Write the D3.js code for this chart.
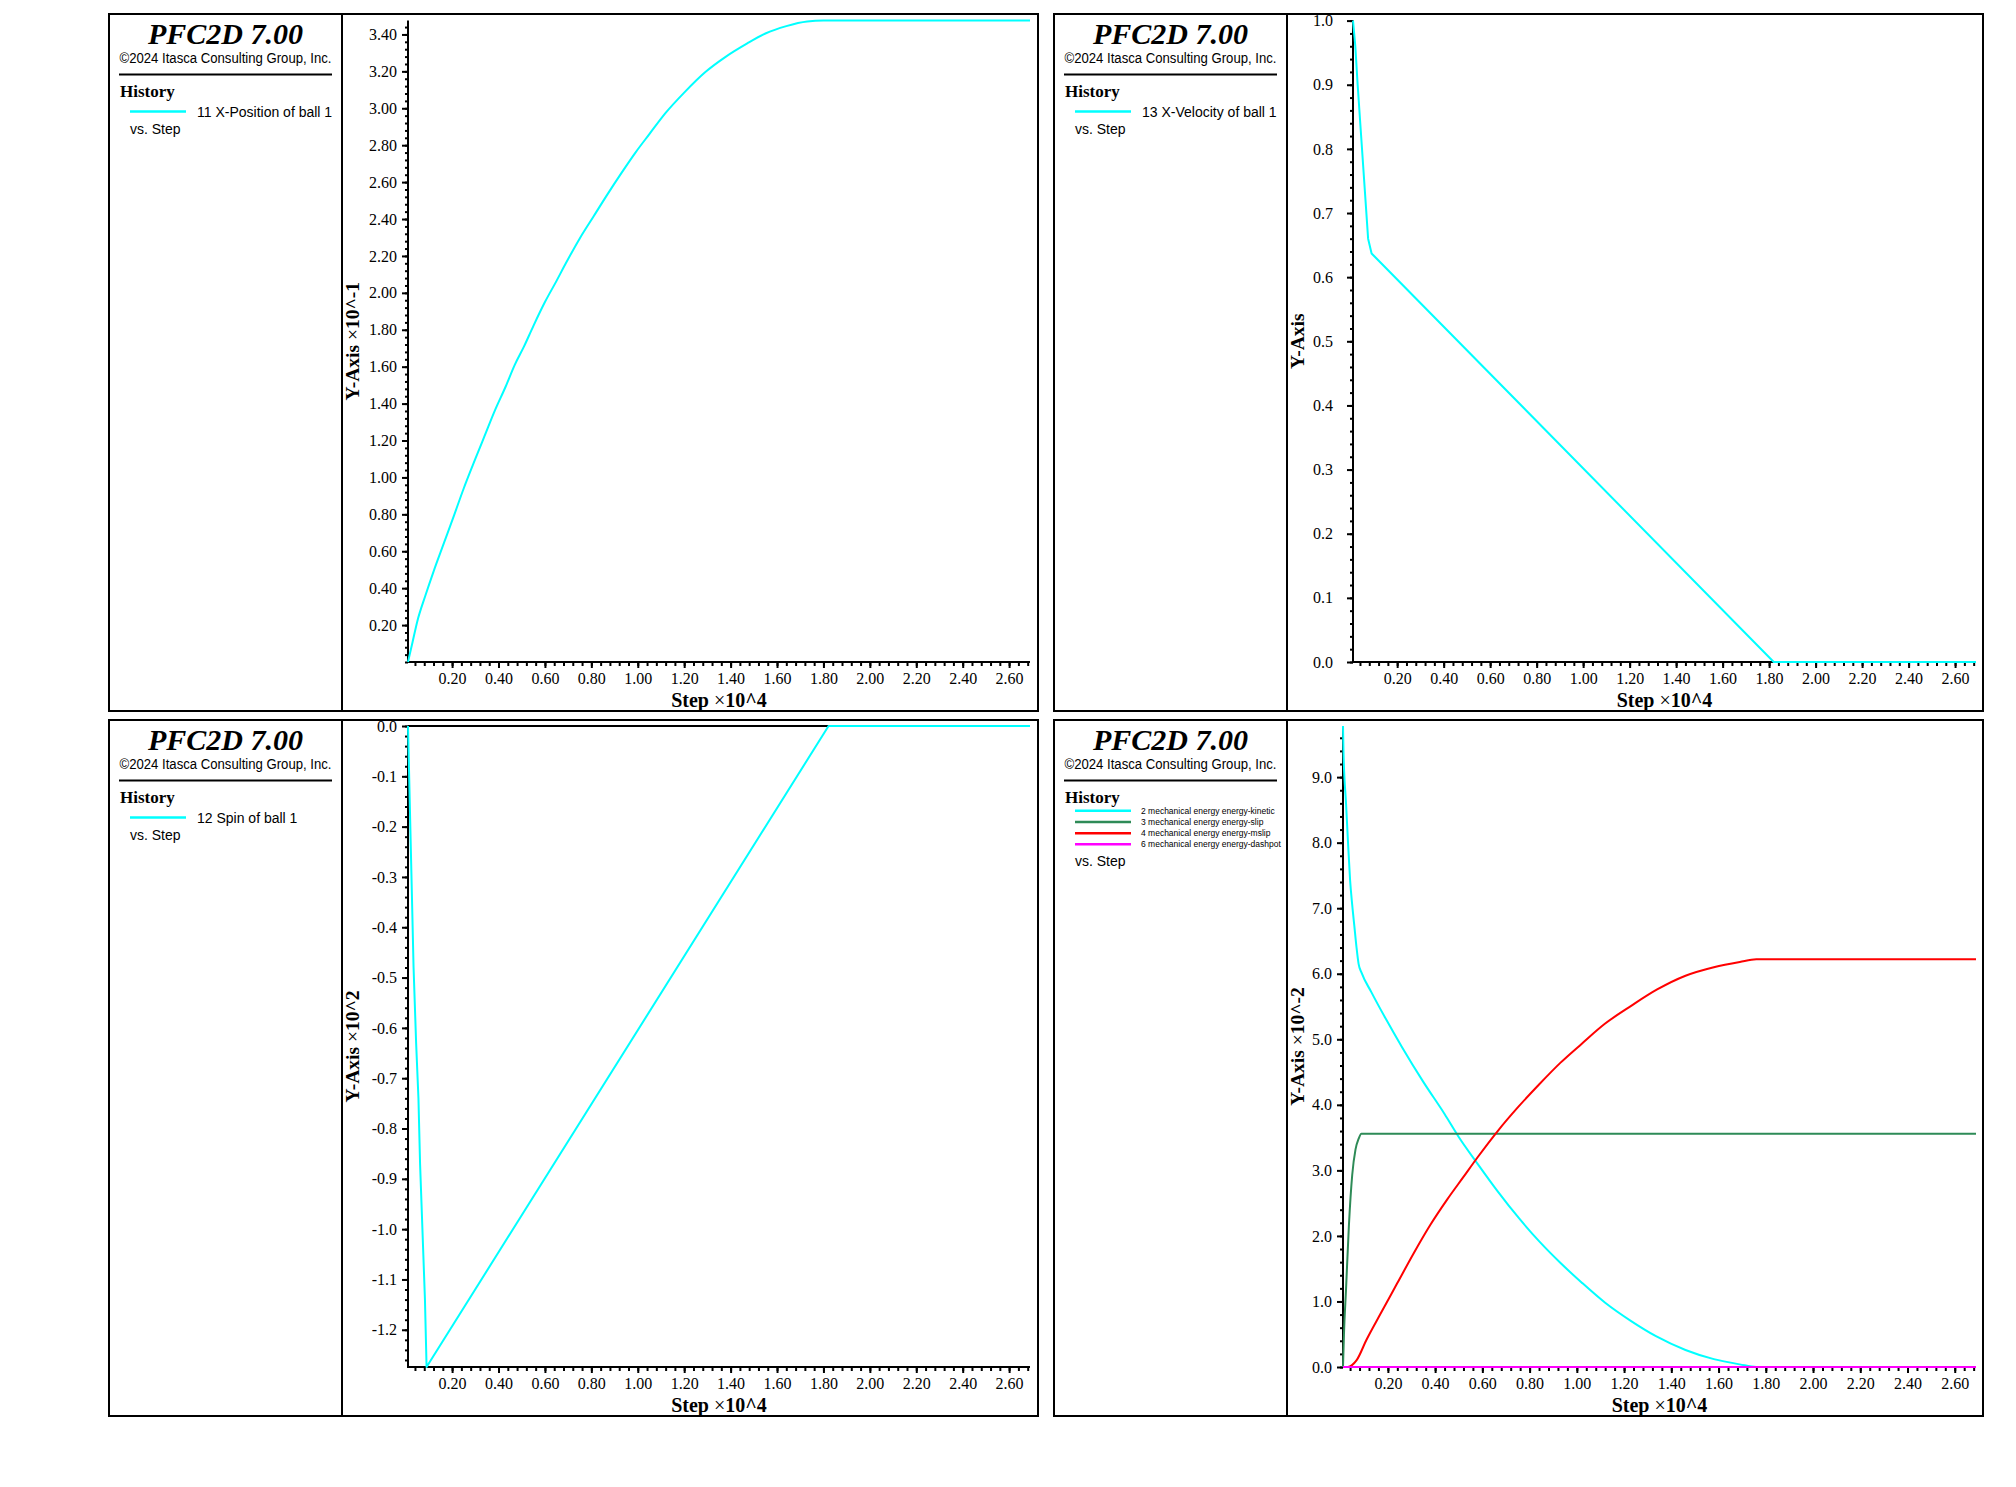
<!DOCTYPE html>
<html><head><meta charset="utf-8">
<script src="https://cdn.jsdelivr.net/npm/d3@7"></script>
<style>body{margin:0;background:#fff}svg{display:block}</style>
</head><body>
<svg id="c" width="2016" height="1487"></svg>
<script>
// ---------- DATA (steps in 10^4) ----------
const stepTicks = [0.2,0.4,0.6,0.8,1.0,1.2,1.4,1.6,1.8,2.0,2.2,2.4,2.6];
const stepDomain = [0.01, 2.69];

// 11 X-Position of ball 1 (x10^-1)
const posStep  = [0.01,0.03,0.05,0.085,0.12,0.165,0.21,0.25,0.30,0.34,0.385,0.43,0.47,0.51,0.55,0.60,0.65,0.69,0.75,0.81,0.87,0.93,0.99,1.05,1.12,1.20,1.29,1.38,1.47,1.55,1.64,1.73,1.80,2.69];
const posValue = [0.0,0.11,0.22,0.36,0.49,0.645,0.80,0.94,1.10,1.225,1.365,1.49,1.61,1.71,1.82,1.95,2.065,2.16,2.295,2.415,2.535,2.65,2.76,2.86,2.975,3.085,3.195,3.28,3.35,3.405,3.445,3.47,3.475,3.475];
const posTicks = [0.2,0.4,0.6,0.8,1.0,1.2,1.4,1.6,1.8,2.0,2.2,2.4,2.6,2.8,3.0,3.2,3.4];

// 13 X-Velocity of ball 1
const velStep  = [0.01,0.02,0.03,0.045,0.06,0.075,0.09,1.82,2.69];
const velValue = [1.0,0.96,0.90,0.82,0.74,0.66,0.637,0.0,0.0];
const velTicks = [0.0,0.1,0.2,0.3,0.4,0.5,0.6,0.7,0.8,0.9,1.0];

// 12 Spin of ball 1 (x10^2)
const spinStep  = [0.01,0.014,0.02,0.027,0.034,0.045,0.055,0.062,0.076,0.083,0.09,1.822,2.69];
const spinValue = [0.0,-0.08,-0.2,-0.34,-0.48,-0.63,-0.74,-0.87,-1.05,-1.14,-1.274,0.0,0.0];
const spinTicks = [0.0,-0.1,-0.2,-0.3,-0.4,-0.5,-0.6,-0.7,-0.8,-0.9,-1.0,-1.1,-1.2];

// mechanical energy (x10^-2)
const keStep  = [0.01,0.012,0.023,0.032,0.04,0.049,0.058,0.067,0.076,0.088,0.13,0.19,0.26,0.35,0.44,0.50,0.58,0.665,0.755,0.84,0.93,1.02,1.12,1.23,1.335,1.46,1.58,1.69,1.76,2.69];
const keValue = [9.78,9.4,8.59,7.95,7.43,7.05,6.73,6.41,6.15,6.02,5.72,5.32,4.88,4.35,3.86,3.51,3.10,2.68,2.27,1.92,1.59,1.29,0.98,0.70,0.47,0.26,0.12,0.04,0.0,0.0];
const slipStep  = [0.01,0.014,0.023,0.035,0.049,0.063,0.076,0.088,2.69];
const slipValue = [0.0,0.49,1.2,2.16,2.93,3.32,3.48,3.557,3.557];
const mslipStep  = [0.01,0.03,0.067,0.11,0.17,0.24,0.31,0.38,0.45,0.52,0.58,0.665,0.75,0.84,0.93,1.02,1.12,1.23,1.34,1.46,1.58,1.69,1.76,2.69];
const mslipValue = [0.0,0.0,0.1,0.42,0.82,1.28,1.74,2.17,2.55,2.90,3.20,3.60,3.96,4.31,4.64,4.93,5.24,5.51,5.76,5.97,6.10,6.18,6.22,6.22];
const dashStep  = [0.01,2.69];
const dashValue = [0.0,0.0];
const energyTicks = [0,1,2,3,4,5,6,7,8,9];

const CYAN = "#00FFFF", GREEN = "#2E8B57", RED = "#FF0000", MAGENTA = "#FF00FF";
const SERIF = "'Liberation Serif','Times New Roman',serif";
const SANS = "'Liberation Sans',Arial,sans-serif";

const zip = (a, b) => a.map((v, i) => [v, b[i]]);

const panels = [
  { box:[109,14,1038,711], div:342, plot:[408,1030,20.6,662], gap:11, yLabX:352, smooth:true,
    yDomain:[0,3.475], yTicks:posTicks, yFmt:2, yMinor:0.04, yLabel:["Y-Axis ","×","10^-1"],
    series:[{d:zip(posStep,posValue), c:CYAN, name:"11 X-Position of ball 1"}], small:false },
  { box:[1054,14,1983,711], div:1287, plot:[1353,1976,20.6,662], gap:20, yLabX:1297, smooth:false,
    yDomain:[0,1.0], yTicks:velTicks, yFmt:1, yMinor:0.02, yLabel:["Y-Axis","",""],
    series:[{d:zip(velStep,velValue), c:CYAN, name:"13 X-Velocity of ball 1"}], small:false },
  { box:[109,720,1038,1416], div:342, plot:[408,1030,726,1367], gap:11, yLabX:352, smooth:false,
    yDomain:[-1.274,0], yTicks:spinTicks, yFmt:1, yMinor:0.02, yLabel:["Y-Axis ","×","10^2"], zeroLine:true,
    series:[{d:zip(spinStep,spinValue), c:CYAN, name:"12 Spin of ball 1"}], small:false },
  { box:[1054,720,1983,1416], div:1287, plot:[1343,1976,726,1367], gap:11, yLabX:1297, smooth:true,
    yDomain:[0,9.78], yTicks:energyTicks, yFmt:1, yMinor:0.2, yLabel:["Y-Axis ","×","10^-2"],
    series:[
      {d:zip(keStep,keValue), c:CYAN, name:"2 mechanical energy energy-kinetic"},
      {d:zip(slipStep,slipValue), c:GREEN, name:"3 mechanical energy energy-slip"},
      {d:zip(mslipStep,mslipValue), c:RED, name:"4 mechanical energy energy-mslip"},
      {d:zip(dashStep,dashValue), c:MAGENTA, name:"6 mechanical energy energy-dashpot"}
    ], small:true }
];

const svg = d3.select("#c");
svg.append("rect").attr("width",2016).attr("height",1487).attr("fill","#fff");

panels.forEach(p => {
  const [bx0,by0,bx1,by1] = p.box;
  const g = svg.append("g");
  // frame
  g.append("rect").attr("x",bx0).attr("y",by0).attr("width",bx1-bx0).attr("height",by1-by0)
    .attr("fill","none").attr("stroke","#000").attr("stroke-width",2);
  g.append("line").attr("x1",p.div).attr("x2",p.div).attr("y1",by0).attr("y2",by1)
    .attr("stroke","#000").attr("stroke-width",2);

  // legend block
  const cx = (bx0 + p.div) / 2;
  g.append("text").attr("x",cx).attr("y",by0+29.5).attr("text-anchor","middle")
    .attr("font-family",SERIF).attr("font-weight","bold").attr("font-style","italic")
    .attr("font-size",30).text("PFC2D 7.00");
  g.append("text").attr("x",cx).attr("y",by0+49.3).attr("text-anchor","middle")
    .attr("font-family",SANS).attr("font-size",14)
    .attr("textLength",212).attr("lengthAdjust","spacingAndGlyphs")
    .text("©2024 Itasca Consulting Group, Inc.");
  g.append("line").attr("x1",bx0+10).attr("x2",bx0+223).attr("y1",by0+60.5).attr("y2",by0+60.5)
    .attr("stroke","#000").attr("stroke-width",2);
  g.append("text").attr("x",bx0+11).attr("y",by0+83.3)
    .attr("font-family",SERIF).attr("font-weight","bold").attr("font-size",17).text("History");

  if (!p.small) {
    p.series.forEach((s,i) => {
      g.append("line").attr("x1",bx0+21).attr("x2",bx0+77).attr("y1",by0+97.5).attr("y2",by0+97.5)
        .attr("stroke",s.c).attr("stroke-width",2.5);
      g.append("text").attr("x",bx0+88).attr("y",by0+102.5).attr("font-family",SANS)
        .attr("font-size",14).text(s.name);
    });
    g.append("text").attr("x",bx0+21).attr("y",by0+119.5).attr("font-family",SANS)
      .attr("font-size",14).text("vs. Step");
  } else {
    const ys = [90.7,102,113.3,124.3];
    p.series.forEach((s,i) => {
      g.append("line").attr("x1",bx0+21).attr("x2",bx0+77).attr("y1",by0+ys[i]).attr("y2",by0+ys[i])
        .attr("stroke",s.c).attr("stroke-width",2.5);
      g.append("text").attr("x",bx0+87).attr("y",by0+ys[i]+3).attr("font-family",SANS)
        .attr("font-size",8.5).text(s.name);
    });
    g.append("text").attr("x",bx0+21).attr("y",by0+145.7).attr("font-family",SANS)
      .attr("font-size",14).text("vs. Step");
  }

  // plot
  const [pl,pr,pt,pb] = p.plot;
  const x = d3.scaleLinear().domain(stepDomain).range([pl,pr]);
  const y = d3.scaleLinear().domain(p.yDomain).range([pb,pt]);

  if (p.zeroLine) {
    g.append("line").attr("x1",pl).attr("x2",pr).attr("y1",y(0)).attr("y2",y(0))
      .attr("stroke","#000").attr("stroke-width",2);
  }

  // x axis
  const xMinor = d3.range(1,68).map(i => +(i*0.04).toFixed(2)).filter(v => v <= stepDomain[1]);
  const xa = g.append("g").attr("transform",`translate(0,${pb})`)
    .call(d3.axisBottom(x).tickValues(xMinor).tickSize(4).tickFormat(""));
  xa.select(".domain").remove();
  xa.selectAll("line").attr("stroke-width",2);
  const xb = g.append("g").attr("transform",`translate(0,${pb})`)
    .call(d3.axisBottom(x).tickValues(stepTicks).tickSize(6).tickPadding(5).tickFormat(d => d.toFixed(2)));
  xb.select(".domain").remove();
  xb.selectAll("line").attr("stroke-width",2);
  xb.selectAll("text").attr("font-family",SERIF).attr("font-size",16).attr("fill","#000");

  // y axis
  const [ylo,yhi] = p.yDomain;
  const nMin = Math.round((yhi-ylo)/p.yMinor)+2;
  const yMinor = d3.range(-nMin,nMin+1).map(i => +(i*p.yMinor).toFixed(3)).filter(v => v>=ylo-1e-9 && v<=yhi+1e-9);
  const ya = g.append("g").attr("transform",`translate(${pl},0)`)
    .call(d3.axisLeft(y).tickValues(yMinor).tickSize(3).tickFormat(""));
  ya.select(".domain").remove();
  ya.selectAll("line").attr("stroke-width",2);
  const yb = g.append("g").attr("transform",`translate(${pl},0)`)
    .call(d3.axisLeft(y).tickValues(p.yTicks).tickSize(6).tickPadding(p.gap-6)
      .tickFormat(d => d.toFixed(p.yFmt)));
  yb.select(".domain").remove();
  yb.selectAll("line").attr("stroke-width",2);
  yb.selectAll("text").attr("font-family",SERIF).attr("font-size",16).attr("fill","#000");

  // axis lines
  g.append("line").attr("x1",pl).attr("x2",pl).attr("y1",pt).attr("y2",pb+1)
    .attr("stroke","#000").attr("stroke-width",2);
  g.append("line").attr("x1",pl-1).attr("x2",pr).attr("y1",pb).attr("y2",pb)
    .attr("stroke","#000").attr("stroke-width",2);

  // data (on top of axes)
  const line = d3.line().x(d => x(d[0])).y(d => y(d[1]))
    .curve(p.smooth ? d3.curveMonotoneX : d3.curveLinear);
  p.series.forEach(s => {
    g.append("path").attr("d",line(s.d)).attr("fill","none").attr("stroke",s.c)
      .attr("stroke-width",2).attr("stroke-linejoin","round");
  });

  // axis titles
  const xt = g.append("text").attr("x",(pl+pr)/2).attr("y",pb+45).attr("text-anchor","middle")
    .attr("font-family",SERIF).attr("font-size",20).attr("font-weight","bold");
  xt.append("tspan").text("Step ");
  xt.append("tspan").attr("font-weight","normal").text("×");
  xt.append("tspan").text("10^4");

  const yt = g.append("text").attr("transform",`translate(${p.yLabX},${(pt+pb)/2}) rotate(-90)`)
    .attr("text-anchor","middle").attr("dominant-baseline","central")
    .attr("font-family",SERIF).attr("font-size",19.5).attr("font-weight","bold");
  yt.append("tspan").text(p.yLabel[0]);
  if (p.yLabel[1]) yt.append("tspan").attr("font-weight","normal").text(p.yLabel[1]);
  if (p.yLabel[2]) yt.append("tspan").text(p.yLabel[2]);
});
</script>
</body></html>
